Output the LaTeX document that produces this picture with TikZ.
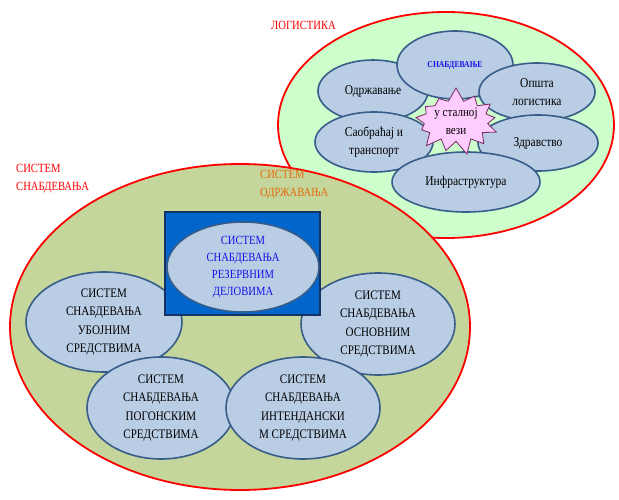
\documentclass[tikz,border=0pt]{standalone}
\usepackage{fontspec}
\setmainfont[FakeStretch=0.85]{Liberation Serif}
\usetikzlibrary{shapes.geometric,shapes.symbols}

\definecolor{olivefill}{RGB}{196,214,155}
\definecolor{logfill}{RGB}{204,255,204}
\definecolor{ovalfill}{RGB}{185,205,229}
\definecolor{ovalline}{RGB}{56,93,138}
\definecolor{boxfill}{RGB}{0,102,204}
\definecolor{boxline}{RGB}{20,50,100}
\definecolor{starfill}{RGB}{255,204,255}
\definecolor{starline}{RGB}{120,40,100}
\definecolor{titleorange}{RGB}{228,108,10}
\definecolor{innerblue}{RGB}{20,20,230}

\tikzset{
  oval/.style={ellipse, fill=ovalfill, draw=ovalline, line width=1.6pt,
    inner sep=0pt, align=center, font=\fontsize{13}{18.5}\selectfont},
  logoval/.style={oval, font=\fontsize{13.5}{18}\selectfont},
  title/.style={align=left, inner sep=0pt, anchor=north west,
    font=\fontsize{12.5}{18}\selectfont}
}

\begin{document}
\begin{tikzpicture}[x=1pt,y=-1pt]
        \useasboundingbox (0,0) rectangle (619,500);
        \def\logellipse{(446,125) ellipse [x radius=168, y radius=113]}
        \def\bigellipse{(240,327) ellipse [x radius=230, y radius=163]}

        % logistika
        \fill[logfill] \logellipse;
        \draw[red, line width=1.8pt] \logellipse;
        \node[logoval, minimum width=110pt, minimum height=62pt] (odrz) at (373,91) {Одржавање};
        \node[logoval, minimum width=116pt, minimum height=68pt, text=innerblue,
              font=\bfseries\fontsize{9}{10}\selectfont] (snab) at (455,65) {СНАБДЕВАЊЕ};
        \node[logoval, minimum width=116pt, minimum height=58pt] (opsta) at (537,92) {Општа\\логистика};
        \node[logoval, minimum width=118pt, minimum height=60pt] (saob) at (374,142) {Саобраћај и\\транспорт};
        \node[logoval, minimum width=120pt, minimum height=56pt] (zdrav) at (538,143) {Здравство};
        \node[logoval, minimum width=148pt, minimum height=60pt] (infra) at (466,182) {Инфраструктура};
        \node[starburst, starburst points=13, starburst point height=14pt, random starburst=7,
              fill=starfill, draw=starline, line width=0.8pt, align=center, inner sep=1pt,
              minimum width=76pt, minimum height=60pt, font=\fontsize{13}{18}\selectfont] (veza) at (456,121) {у сталној\\вези};

        % sistem snabdevanja
        \fill[olivefill] \bigellipse;
        \draw[red, line width=1.8pt] \bigellipse;
        \node[oval, minimum width=156pt, minimum height=100pt] (uboj) at (104,322) {СИСТЕМ\\СНАБДЕВАЊА\\УБОЈНИМ\\СРЕДСТВИМА};
        \node[oval, minimum width=154pt, minimum height=102pt] (osnov) at (378,324) {СИСТЕМ\\СНАБДЕВАЊА\\ОСНОВНИМ\\СРЕДСТВИМА};
        \node[oval, minimum width=148pt, minimum height=102pt] (pogon) at (161,408) {СИСТЕМ\\СНАБДЕВАЊА\\ПОГОНСКИМ\\СРЕДСТВИМА};
        \node[oval, minimum width=154pt, minimum height=102pt] (inten) at (303,408) {СИСТЕМ\\СНАБДЕВАЊА\\ИНТЕНДАНСКИ\\М СРЕДСТВИМА};
        \fill[boxfill, draw=boxline, line width=1.5pt] (165,212) rectangle (320,315);
        \node[oval, minimum width=152pt, minimum height=90pt, text=innerblue,
              font=\fontsize{12.5}{17}\selectfont] (rezerv) at (243,267) {СИСТЕМ\\СНАБДЕВАЊА\\РЕЗЕРВНИМ\\ДЕЛОВИМА};

        \node[title, text=red] (naslog) at (271,21) {ЛОГИСТИКА};
        \node[title, text=red] (nassnab) at (16,164) {СИСТЕМ\\СНАБДЕВАЊА};
        \node[title, text=titleorange] (nasodrz) at (260,170) {СИСТЕМ\\ОДРЖАВАЊА};
     \end{tikzpicture}
\end{document}
